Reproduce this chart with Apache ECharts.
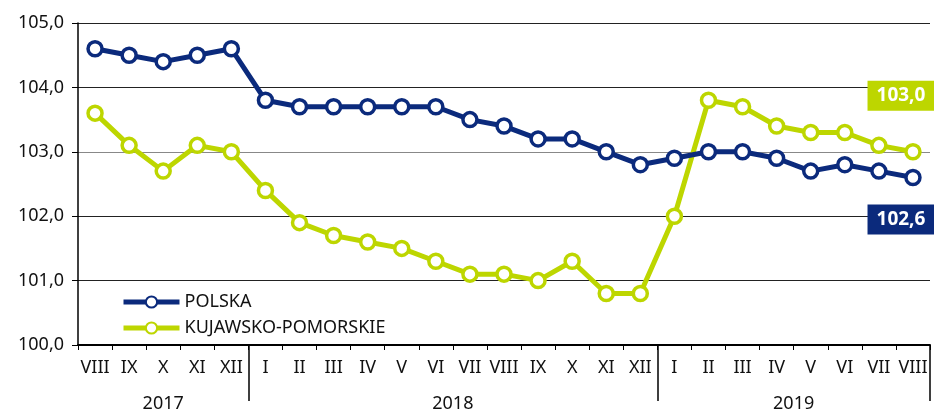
<!DOCTYPE html>
<html>
<head>
<meta charset="utf-8">
<script src="https://cdn.jsdelivr.net/npm/echarts@6/dist/echarts.min.js"></script>
<style>
html, body { margin: 0; padding: 0; background: #fff; }
#chart { width: 934px; height: 416px; }
</style>
</head>
<body>
<div id="chart"></div>
<script>
var months = ['VIII', 'IX', 'X', 'XI', 'XII',
    'I', 'II', 'III', 'IV', 'V', 'VI', 'VII', 'VIII', 'IX', 'X', 'XI', 'XII',
    'I', 'II', 'III', 'IV', 'V', 'VI', 'VII', 'VIII'];
var yearOfMonth = ['2017', '2017', '2017', '2017', '2017',
    '2018', '2018', '2018', '2018', '2018', '2018', '2018', '2018', '2018', '2018', '2018', '2018',
    '2019', '2019', '2019', '2019', '2019', '2019', '2019', '2019'];
var polska = [104.6, 104.5, 104.4, 104.5, 104.6,
    103.8, 103.7, 103.7, 103.7, 103.7, 103.7, 103.5, 103.4, 103.2, 103.2, 103.0, 102.8,
    102.9, 103.0, 103.0, 102.9, 102.7, 102.8, 102.7, 102.6];
var kujawsko = [103.6, 103.1, 102.7, 103.1, 103.0,
    102.4, 101.9, 101.7, 101.6, 101.5, 101.3, 101.1, 101.1, 101.0, 101.3, 100.8, 100.8,
    102.0, 103.8, 103.7, 103.4, 103.3, 103.3, 103.1, 103.0];

var navy = '#0b2a7c';
var green = '#bdd600';
var font = 'Noto Sans';

function fmt(v) {
    return v.toFixed(1).replace('.', ',');
}

function withEndLabel(values, color, offset) {
    var last = values.length - 1;
    return values.map(function (v, i) {
        if (i !== last) return v;
        return {
            value: v,
            label: {
                show: true,
                position: 'inside',
                offset: offset,
                formatter: function (p) { return fmt(p.value); },
                backgroundColor: color,
                color: '#fff',
                fontFamily: font,
                fontWeight: 'bold',
                fontSize: 19,
                padding: [6, 9, 5, 9]
            }
        };
    });
}

// year label at centre of its months; even-length groups shifted half a category
function yearLabel(value, index) {
    if (index === 2) return '{c|' + value + '}';
    if (index === 10 || index === 20) return '{s|' + value + '}';
    return '';
}

var option = {
    animation: false,
    grid: { left: 78, right: 4, top: 23, bottom: 71 },
    legend: {
        orient: 'vertical',
        left: 116,
        top: 288,
        itemWidth: 56,
        itemHeight: 14,
        itemGap: 8,
        lineStyle: { width: 5 },
        textStyle: { fontFamily: font, fontSize: 18, color: '#111' },
        data: ['POLSKA', 'KUJAWSKO-POMORSKIE']
    },
    xAxis: [
        {
            type: 'category',
            data: months,
            boundaryGap: true,
            axisLine: { lineStyle: { color: '#000', width: 2 } },
            axisTick: { show: true, length: 5, lineStyle: { color: '#000' } },
            axisLabel: { interval: 0, margin: 14, fontFamily: font, fontSize: 18, color: '#111' }
        },
        {
            type: 'category',
            data: yearOfMonth,
            position: 'bottom',
            boundaryGap: true,
            axisLine: { show: false },
            axisTick: {
                show: true,
                length: 56,
                interval: function (index) { return index === 5 || index === 17; },
                lineStyle: { color: '#000', width: 1.5 }
            },
            axisLabel: {
                interval: 0,
                margin: 50,
                formatter: yearLabel,
                rich: {
                    c: { fontFamily: font, fontSize: 18, color: '#111' },
                    s: { fontFamily: font, fontSize: 18, color: '#111', padding: [0, 0, 0, 34] }
                }
            }
        }
    ],
    yAxis: {
        type: 'value',
        min: 100,
        max: 105,
        interval: 1,
        axisLine: { show: true, lineStyle: { color: '#000', width: 1.5 } },
        axisTick: { show: true, length: 6, lineStyle: { color: '#000' } },
        axisLabel: {
            margin: 14,
            fontFamily: font,
            fontSize: 18,
            color: '#111',
            formatter: function (v) { return fmt(v); }
        },
        splitLine: {
            lineStyle: { color: ['#222', '#222', '#222', '#888', '#222', '#222'], width: 1.2 }
        }
    },
    series: [
        {
            name: 'POLSKA',
            type: 'line',
            data: withEndLabel(polska, navy, [-12, 42]),
            color: navy,
            lineStyle: { width: 5, color: navy },
            symbol: 'circle',
            symbolSize: 14,
            itemStyle: { color: '#fff', borderColor: navy, borderWidth: 3.5 },
            z: 3
        },
        {
            name: 'KUJAWSKO-POMORSKIE',
            type: 'line',
            data: withEndLabel(kujawsko, green, [-12, -56]),
            color: green,
            lineStyle: { width: 5, color: green },
            symbol: 'circle',
            symbolSize: 14,
            itemStyle: { color: '#fff', borderColor: green, borderWidth: 3.5 },
            z: 2
        }
    ]
};

var myChart = echarts.init(document.getElementById('chart'));
myChart.setOption(option);
</script>
</body>
</html>
